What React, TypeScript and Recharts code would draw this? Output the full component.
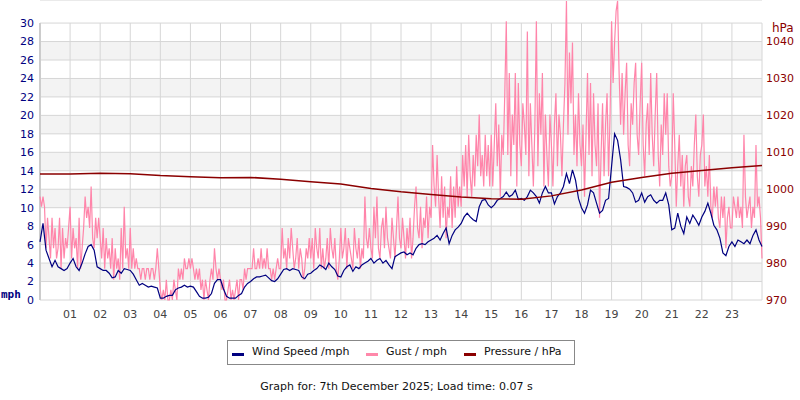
import { ComposedChart, Line, XAxis, YAxis, CartesianGrid, ReferenceLine } from 'recharts';

// wind: one sample every 6 minutes, gust: every 3 minutes, hour 0 .. 24
const windPerHour = 10;
const gustPerHour = 20;

const windSpeed = [
  6.3, 8.3, 5.4, 4.5, 3.6, 4.3, 3.6, 3.4, 3.2, 3.4,
  4.0, 4.5, 3.6, 3.2, 4.0, 5.0, 5.8, 6.0, 5.4, 3.6,
  3.4, 3.2, 3.2, 2.9, 2.4, 2.5, 3.2, 2.9, 3.4, 3.3,
  3.2, 2.8, 2.2, 1.6, 1.8, 1.6, 1.4, 1.5, 1.4, 1.3,
  0.2, 0.2, 0.4, 0.5, 0.5, 1.1, 1.3, 1.4, 1.6, 1.4,
  1.5, 1.4, 0.9, 0.4, 0.2, 0.2, 0.3, 0.7, 1.8, 2.2,
  2.2, 1.2, 0.4, 0.2, 0.2, 0.2, 0.5, 0.7, 1.4, 1.8,
  2.0, 2.3, 2.5, 2.5, 2.6, 2.7, 2.4, 2.1, 2.0, 2.3,
  2.8, 3.3, 3.4, 3.2, 3.4, 3.3, 3.2, 2.5, 2.3, 2.8,
  2.9, 3.2, 3.4, 3.8, 3.6, 3.3, 4.0, 3.6, 3.3, 2.6,
  2.5, 3.2, 3.6, 3.8, 3.1, 3.6, 3.4, 3.8, 4.0, 4.2,
  4.5, 4.0, 4.3, 4.5, 4.0, 4.3, 3.8, 3.4, 4.7, 4.9,
  5.1, 5.2, 4.9, 5.1, 4.9, 5.6, 6.0, 6.1, 6.0, 6.3,
  6.5, 6.7, 7.0, 6.5, 7.2, 7.8, 6.1, 7.0, 7.6, 7.9,
  8.3, 9.0, 9.4, 9.0, 8.7, 8.5, 10.1, 10.8, 10.9, 10.3,
  10.0, 10.3, 10.8, 11.0, 11.2, 11.7, 11.2, 11.4, 11.9, 10.9,
  11.0, 10.8, 11.2, 11.9, 11.6, 11.2, 10.5, 11.6, 12.3, 11.6,
  11.6, 10.4, 11.2, 11.6, 12.3, 13.7, 12.6, 14.1, 13.0, 11.0,
  10.0, 9.4, 10.3, 11.9, 11.6, 10.5, 9.4, 9.7, 10.8, 11.0,
  14.5, 18.0, 17.3, 15.2, 12.3, 12.2, 12.0, 11.6, 10.6, 10.8,
  11.6, 10.6, 11.2, 11.4, 10.8, 10.5, 10.8, 10.8, 11.6, 10.3,
  7.6, 7.8, 9.4, 8.0, 7.2, 9.0, 8.3, 9.2, 8.7, 8.1,
  9.0, 9.6, 10.5, 9.4, 8.1, 7.6, 6.7, 5.1, 4.8, 5.8,
  6.3, 5.8, 6.5, 6.3, 6.1, 6.5, 6.1, 7.0, 7.6, 6.5,
  5.8,
];

const gust = [
  11.2, 10.1, 11.2, 10.1, 5.6, 8.9, 6.7, 4.5, 8.9, 5.6, 7.8, 4.5, 5.6, 8.9, 3.4, 7.8, 4.5, 6.7, 5.6, 7.8,
  10.1, 4.5, 7.8, 5.6, 6.7, 3.4, 8.9, 3.4, 5.6, 7.8, 11.2, 8.9, 10.1, 7.8, 12.3, 6.7, 5.6, 8.9, 6.7, 8.9,
  6.7, 4.5, 7.8, 3.4, 6.7, 4.5, 5.6, 3.4, 6.7, 2.2, 5.6, 3.4, 4.5, 2.2, 7.8, 3.4, 10.1, 4.5, 5.6, 3.4,
  7.8, 3.4, 5.6, 3.4, 4.5, 3.4, 3.4, 2.2, 3.4, 3.4, 2.2, 3.4, 3.4, 2.2, 3.4, 3.4, 2.2, 3.4, 5.6, 3.4,
  1.1, 0, 1.1, 0, 2.2, 0, 0, 1.1, 0, 2.2, 1.1, 0, 3.4, 2.2, 3.4, 2.2, 4.5, 3.4, 3.4, 4.5,
  3.4, 4.5, 3.4, 2.2, 3.4, 2.2, 3.4, 1.1, 2.2, 0, 2.2, 1.1, 0, 2.2, 3.4, 2.2, 5.6, 3.4, 2.2, 3.4,
  2.2, 1.1, 2.2, 0, 0, 1.1, 2.2, 0, 1.1, 0, 1.1, 2.2, 0, 2.2, 2.2, 1.1, 3.4, 2.2, 3.4, 3.4,
  3.4, 3.4, 5.6, 3.4, 3.4, 4.5, 3.4, 5.6, 3.4, 4.5, 3.4, 5.6, 3.4, 3.4, 2.2, 3.4, 2.2, 3.4, 4.5, 3.4,
  3.4, 7.8, 4.5, 5.6, 3.4, 6.7, 4.5, 7.8, 5.6, 3.4, 4.5, 6.7, 3.4, 5.6, 4.5, 2.2, 3.4, 5.6, 4.5, 6.7,
  4.5, 6.7, 3.4, 7.8, 5.6, 4.5, 7.8, 3.4, 5.6, 3.4, 4.5, 6.7, 3.4, 7.8, 5.6, 4.5, 6.7, 3.4, 2.2, 4.5,
  7.8, 4.5, 5.6, 7.8, 3.4, 6.7, 5.6, 4.5, 3.4, 7.8, 5.6, 4.5, 6.7, 3.4, 5.6, 4.5, 11.2, 6.7, 5.6, 7.8,
  5.6, 4.5, 10.1, 6.7, 11.2, 5.6, 4.5, 7.8, 8.9, 5.6, 10.1, 6.7, 5.6, 4.5, 8.9, 6.7, 4.5, 7.8, 11.2, 6.7,
  5.6, 8.9, 6.7, 4.5, 7.8, 5.6, 8.9, 4.5, 6.7, 10.1, 12.3, 7.8, 6.7, 10.1, 5.6, 8.9, 7.8, 11.2, 6.7, 10.1,
  8.9, 16.8, 12.3, 10.1, 15.7, 11.2, 7.8, 13.4, 8.9, 12.3, 6.7, 10.1, 8.9, 13.4, 7.8, 12.3, 8.9, 14.5, 10.1, 12.3,
  10.1, 15.7, 12.3, 16.8, 11.2, 17.9, 13.4, 11.2, 15.7, 12.3, 17.9, 14.5, 20.1, 13.4, 15.7, 12.3, 17.9, 13.4, 16.8, 12.3,
  17.9, 12.3, 16.8, 21.3, 14.5, 19.0, 11.2, 17.9, 15.7, 22.4, 30.2, 15.7, 24.6, 13.4, 20.1, 16.8, 24.6, 12.3, 23.5, 16.8,
  14.5, 21.3, 19.0, 15.7, 29.1, 13.4, 21.3, 16.8, 12.3, 19.0, 30.2, 14.5, 22.4, 17.9, 24.6, 12.3, 20.1, 15.7, 12.3, 20.1,
  16.8, 12.3, 19.0, 22.4, 14.5, 20.1, 17.9, 13.4, 19.0, 23.5, 32.4, 17.9, 26.8, 21.3, 27.9, 15.7, 20.1, 14.5, 22.4, 16.8,
  14.5, 19.0, 11.2, 17.9, 24.6, 15.7, 23.5, 13.4, 22.4, 16.8, 14.5, 21.3, 8.9, 15.7, 21.3, 13.4, 19.0, 22.4, 13.4, 20.1,
  30.2, 23.5, 27.9, 31.3, 32.4, 24.6, 19.0, 24.6, 17.9, 22.4, 25.7, 16.8, 14.5, 21.3, 19.0, 23.5, 25.7, 17.9, 15.7, 21.3,
  25.7, 16.8, 13.4, 19.0, 21.3, 15.7, 24.6, 17.9, 14.5, 20.1, 24.6, 15.7, 12.3, 19.0, 15.7, 22.4, 17.9, 22.4, 14.5, 12.3,
  13.4, 22.4, 16.8, 10.1, 14.5, 17.9, 12.3, 15.7, 10.1, 14.5, 15.7, 11.2, 10.1, 14.5, 12.3, 16.8, 20.1, 13.4, 11.2, 15.7,
  16.8, 20.1, 12.3, 14.5, 11.2, 15.7, 10.1, 8.9, 12.3, 10.1, 12.3, 8.9, 7.8, 11.2, 8.9, 11.2, 5.6, 8.9, 10.1, 7.8,
  7.8, 11.2, 10.1, 8.9, 11.2, 8.9, 10.1, 7.8, 17.9, 11.2, 8.9, 10.1, 11.2, 7.8, 10.1, 8.9, 16.8, 10.1, 11.2, 8.9,
  4.5,
];

// hourly, hour 0 .. 24
const pressure = [
  1004.1, 1004.1, 1004.3, 1004.2, 1003.7, 1003.4, 1003.1, 1003.2, 1002.7, 1002.0,
  1001.4, 1000.2, 999.3, 998.6, 997.9, 997.4, 997.3, 998.2, 999.8, 1001.9,
  1003.2, 1004.3, 1005.1, 1005.8, 1006.4,
];

const hourTicks = [1, 2, 3, 4, 5, 6, 7, 8, 9, 10, 11, 12, 13, 14, 15, 16, 17, 18, 19, 20, 21, 22, 23];
const gridHours = [0, ...hourTicks, 24];
const mphTicks = [0, 2, 4, 6, 8, 10, 12, 14, 16, 18, 20, 22, 24, 26, 28, 30];
const hpaTicks = [970, 980, 990, 1000, 1010, 1020, 1030, 1040];

// plot area runs a little above 30 mph so the high gusts are not clipped
const MPH_TOP = 32.5;
const HPA_TOP = 970 + MPH_TOP * 2.5;

const stripeFills = mphTicks.map((_, i) => (i >= 2 && i % 2 === 0 ? '#f3f3f3' : '#ffffff'));

const windData = windSpeed.map((mph, i) => ({ hour: i / windPerHour, mph }));
const gustData = gust.map((mph, i) => ({ hour: i / gustPerHour, mph }));
const pressureData = pressure.map((hpa, i) => ({ hour: i, hpa }));

const legendItems = [
  { label: 'Wind Speed /mph', color: '#000080', x: 4 },
  { label: 'Gust / mph', color: '#ff88aa', x: 138 },
  { label: 'Pressure / hPa', color: '#8b0000', x: 236 },
];

const pad2 = (h: number) => (h < 10 ? '0' : '') + h;

export default function App() {
  return (
    <div
      style={{
        position: 'absolute',
        left: 0,
        top: 0,
        width: 800,
        height: 400,
        fontFamily: 'DejaVu Sans',
        background: '#fff',
      }}
    >
      <div
        style={{
          position: 'absolute',
          left: 0,
          width: 800,
          top: 5,
          textAlign: 'center',
          fontFamily: 'DejaVu Sans Mono',
          fontWeight: 'bold',
          fontSize: 11.5,
          color: '#333',
        }}
      >
        Daily graph of Weather
      </div>

      <ComposedChart width={800} height={400} margin={{ top: 0, right: 0, bottom: 70, left: 0 }}>
        <CartesianGrid
          yAxisId="mph"
          vertical={false}
          stroke="#d6d6d6"
          horizontalFill={stripeFills}
          fillOpacity={1}
        />
        {gridHours.map((h) => (
          <ReferenceLine
            key={h}
            yAxisId="mph"
            segment={[
              { x: h, y: 0 },
              { x: h, y: 30 },
            ]}
            stroke={h === 0 ? '#cccccc' : '#d6d6d6'}
            strokeWidth={h === 0 ? 2 : 1}
            zIndex={-50}
          />
        ))}
        <XAxis
          type="number"
          dataKey="hour"
          domain={[0, 24]}
          ticks={hourTicks}
          interval={0}
          tickFormatter={pad2}
          axisLine={false}
          tickLine={false}
          tickMargin={4}
          height={30}
          tick={{ fill: '#444', fontSize: 11 }}
        />
        <YAxis
          yAxisId="mph"
          domain={[0, MPH_TOP]}
          ticks={mphTicks}
          interval={0}
          width={40}
          axisLine={false}
          tickLine={false}
          tickSize={4}
          tickMargin={2}
          tick={{ fill: '#000080', fontSize: 11 }}
        />
        <YAxis
          yAxisId="hpa"
          orientation="right"
          domain={[970, HPA_TOP]}
          ticks={hpaTicks}
          interval={0}
          width={38}
          axisLine={false}
          tickLine={false}
          tickSize={2}
          tickMargin={2}
          tick={{ fill: '#8b0000', fontSize: 11, textAnchor: 'start' }}
        />
        <Line
          yAxisId="mph"
          data={gustData}
          dataKey="mph"
          type="linear"
          stroke="#ff85aa"
          strokeWidth={1.2}
          dot={false}
          activeDot={false}
          isAnimationActive={false}
        />
        <Line
          yAxisId="mph"
          data={windData}
          dataKey="mph"
          type="linear"
          stroke="#000080"
          strokeWidth={1.2}
          dot={false}
          activeDot={false}
          isAnimationActive={false}
        />
        <Line
          yAxisId="hpa"
          data={pressureData}
          dataKey="hpa"
          type="linear"
          stroke="#8b0000"
          strokeWidth={1.5}
          dot={false}
          activeDot={false}
          isAnimationActive={false}
        />
      </ComposedChart>

      <div
        style={{
          position: 'absolute',
          left: 1,
          top: 288,
          fontFamily: 'DejaVu Sans Mono',
          fontWeight: 'bold',
          fontSize: 11,
          color: '#000080',
        }}
      >
        mph
      </div>
      <div style={{ position: 'absolute', left: 772, top: 21, fontSize: 12, color: '#8b0000' }}>hPa</div>

      <div
        style={{
          position: 'absolute',
          left: 227,
          top: 340,
          width: 346,
          height: 23,
          border: '1px solid #888',
          fontSize: 11,
          color: '#111',
        }}
      >
        {legendItems.map((item) => (
          <div key={item.label}>
            <div
              style={{
                position: 'absolute',
                left: item.x,
                top: 12,
                width: 12,
                height: 3,
                background: item.color,
              }}
            />
            <div style={{ position: 'absolute', left: item.x + 20, top: 4, whiteSpace: 'nowrap' }}>
              {item.label}
            </div>
          </div>
        ))}
      </div>

      <div
        style={{
          position: 'absolute',
          left: 0,
          width: 793,
          top: 380,
          textAlign: 'center',
          fontSize: 11,
          color: '#111',
        }}
      >
        Graph for: 7th December 2025; Load time: 0.07 s
      </div>
    </div>
  );
}
